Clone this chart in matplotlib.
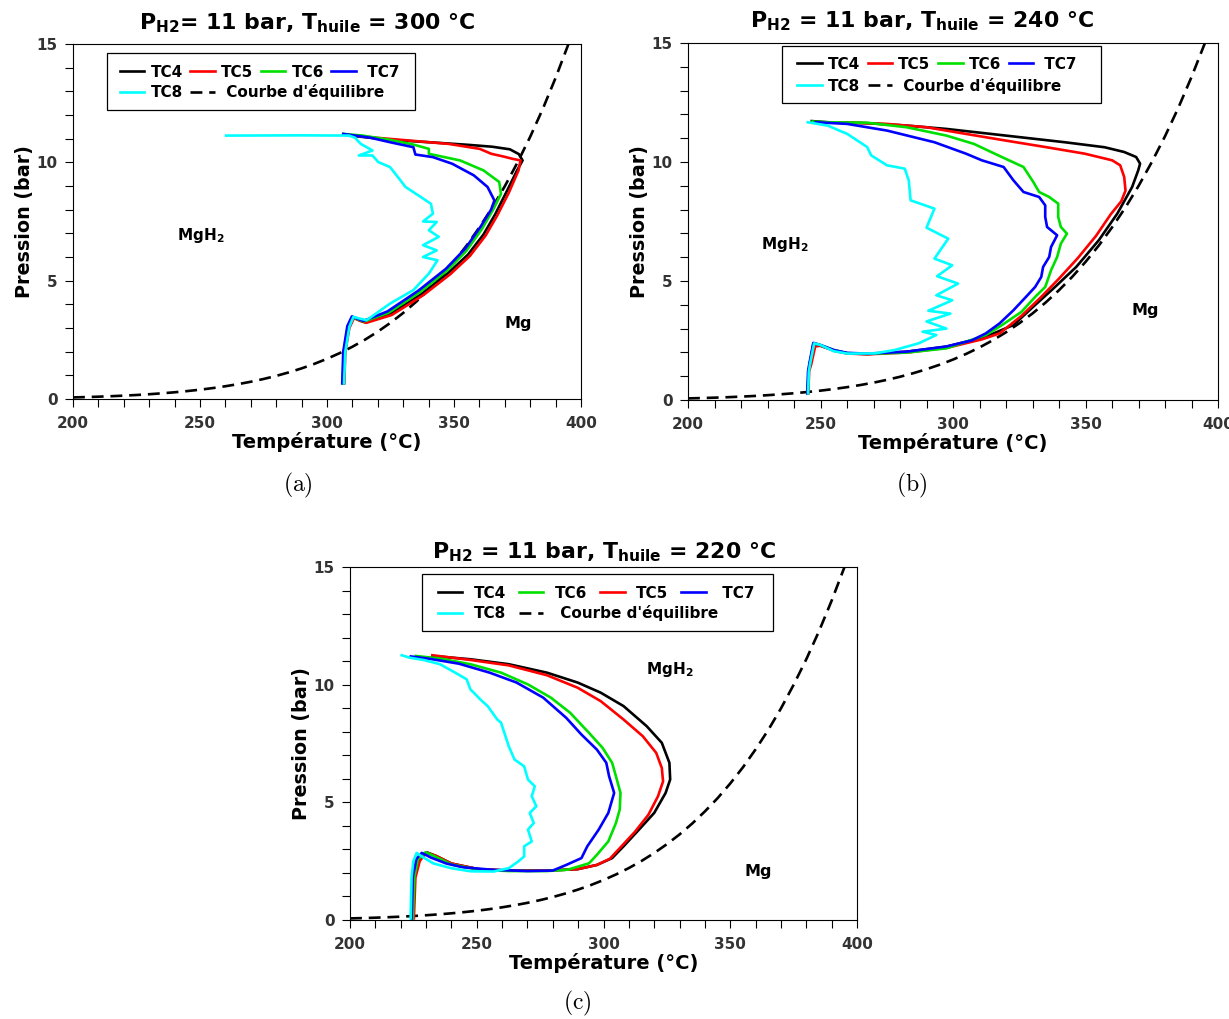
import matplotlib
matplotlib.use("Agg")
import matplotlib.pyplot as plt
from matplotlib.ticker import MultipleLocator
from matplotlib.patches import Rectangle

plt.rcParams["font.family"] = "DejaVu Sans"
plt.rcParams["font.weight"] = "bold"
plt.rcParams["axes.labelweight"] = "bold"

# courbe d'equilibre
T_eq = [200, 205, 210, 215, 220, 225, 230, 235, 240, 245, 250, 255, 260, 265,
        270, 275, 280, 285, 290, 295, 300, 305, 310, 315, 320, 325, 330, 335,
        340, 345, 350, 355, 360, 365, 370, 375, 380, 385, 390, 395, 397]
P_eq = [0.067, 0.081, 0.098, 0.118, 0.142, 0.169, 0.202, 0.240, 0.284, 0.335,
        0.393, 0.461, 0.539, 0.628, 0.729, 0.845, 0.976, 1.126, 1.294, 1.484,
        1.699, 1.939, 2.208, 2.509, 2.846, 3.222, 3.636, 4.100, 4.614, 5.176,
        5.801, 6.488, 7.250, 8.077, 8.990, 9.994, 11.08, 12.27, 13.57, 14.98, 15.6]

# (a) T huile = 300 C
T_a_TC4 = [306.6, 307.0, 308.6, 310.4, 312.7, 315.0, 324.8, 337.0, 347.8, 355.5, 361.6, 366.2,
           370.8, 374.7, 377.0, 375.5, 372.0, 365.0, 355.5, 340.1, 324.8, 312.5, 306.4]
P_a_TC4 = [0.66, 2.0, 3.05, 3.45, 3.33, 3.24, 3.58, 4.42, 5.33, 6.10, 6.95, 7.80,
           8.78, 9.63, 10.08, 10.35, 10.55, 10.66, 10.74, 10.85, 10.95, 11.09, 11.18]
T_a_TC5 = [306.8, 307.2, 308.8, 310.6, 313.0, 315.5, 325.5, 337.8, 348.5, 356.3, 362.4, 367.0,
           371.6, 375.4, 376.2, 373.0, 369.3, 364.7, 360.1, 347.8, 332.5, 317.1, 306.4]
P_a_TC5 = [0.66, 2.0, 3.0, 3.42, 3.3, 3.22, 3.55, 4.38, 5.27, 6.05, 6.90, 7.75,
           8.72, 9.66, 10.08, 10.15, 10.25, 10.36, 10.57, 10.78, 10.92, 11.06, 11.18]
T_a_TC6 = [306.2, 306.6, 308.2, 310.0, 312.4, 314.6, 324.2, 336.4, 347.2, 354.8, 360.8, 365.4,
           368.5, 367.8, 361.6, 352.4, 343.2, 340.1, 340.1, 334.0, 324.8, 314.0, 306.4]
P_a_TC6 = [0.66, 2.0, 3.05, 3.47, 3.35, 3.28, 3.64, 4.50, 5.42, 6.25, 7.15, 8.00,
           8.67, 9.17, 9.66, 10.08, 10.29, 10.36, 10.57, 10.75, 10.95, 11.13, 11.20]
T_a_TC7 = [306.0, 306.4, 308.0, 309.8, 312.2, 314.4, 323.8, 336.0, 346.8, 354.4, 360.4, 364.6,
           365.9, 363.2, 357.8, 349.3, 341.7, 334.8, 334.0, 324.8, 317.1, 311.0, 306.4]
P_a_TC7 = [0.66, 2.0, 3.08, 3.49, 3.38, 3.30, 3.70, 4.58, 5.50, 6.35, 7.27, 8.0,
           8.39, 8.96, 9.45, 9.94, 10.22, 10.33, 10.64, 10.85, 11.04, 11.13, 11.20]
T_a_TC8 = [306.7, 307.2, 308.8, 310.4, 312.8, 315.6, 324.8, 334.0, 340.1, 343.5, 337.8, 343.2,
           337.8, 344.0, 340.1, 343.2, 337.8, 341.7, 340.9, 337.0, 330.9, 327.9, 324.8, 320.2,
           317.9, 312.5, 317.9, 313.3, 311.0, 308.7, 290.0, 260.3]
P_a_TC8 = [0.66, 2.0, 3.05, 3.47, 3.4, 3.33, 4.03, 4.60, 5.30, 5.86, 6.0, 6.28,
           6.5, 6.85, 7.13, 7.48, 7.50, 7.83, 8.25, 8.53, 8.96, 9.38, 9.8, 10.01,
           10.29, 10.29, 10.5, 10.78, 11.04, 11.13, 11.14, 11.13]

# (b) T huile = 240 C
T_b_TC4 = [245.2, 245.5, 246.0, 247.3, 249.5, 255.0, 260.1, 267.6, 282.5, 297.5, 312.4, 322.8,
           329.5, 338.5, 346.5, 355.0, 362.0, 367.6, 369.9, 370.6, 369.1, 364.6, 357.2, 342.2,
           319.9, 297.5, 282.5, 267.6, 252.7, 246.7]
P_b_TC4 = [0.28, 1.2, 1.54, 2.35, 2.30, 2.08, 1.96, 1.93, 2.03, 2.24, 2.66, 3.15,
           3.84, 4.75, 5.59, 6.71, 7.83, 8.95, 9.65, 9.93, 10.21, 10.42, 10.62, 10.83,
           11.11, 11.39, 11.53, 11.63, 11.67, 11.72]
T_b_TC5 = [245.4, 245.7, 246.5, 248.0, 250.0, 255.5, 260.5, 268.0, 283.0, 298.0, 311.0, 317.6,
           326.0, 333.0, 340.0, 347.0, 354.0, 359.5, 363.5, 365.1, 364.6, 363.1, 360.1, 349.7,
           334.8, 319.9, 304.9, 290.0, 275.1, 260.1, 248.2]
P_b_TC5 = [0.28, 1.2, 1.5, 2.25, 2.28, 2.06, 1.95, 1.92, 2.0, 2.2, 2.55, 2.80,
           3.55, 4.30, 5.10, 5.95, 6.90, 7.80, 8.35, 8.80, 9.37, 9.86, 10.07, 10.35,
           10.63, 10.90, 11.18, 11.46, 11.60, 11.66, 11.67]
T_b_TC6 = [245.2, 245.5, 246.0, 247.5, 249.7, 255.0, 260.1, 267.6, 282.5, 297.5, 312.4, 318.5,
           325.8, 331.0, 334.8, 337.0, 339.3, 340.7, 343.0, 340.7, 339.7, 339.7, 336.3, 332.5,
           330.3, 326.6, 318.4, 307.9, 297.5, 282.5, 267.6, 252.7, 247.0]
P_b_TC6 = [0.28, 1.2, 1.54, 2.38, 2.32, 2.1, 1.97, 1.94, 1.99, 2.17, 2.73, 3.15,
           3.70, 4.33, 4.75, 5.45, 6.01, 6.57, 6.99, 7.27, 7.69, 8.25, 8.53, 8.74,
           9.16, 9.79, 10.21, 10.76, 11.11, 11.46, 11.65, 11.67, 11.70]
T_b_TC7 = [245.0, 245.3, 245.8, 247.3, 249.5, 255.0, 260.1, 267.6, 282.5, 297.5, 307.0, 312.4,
           317.6, 322.8, 328.1, 331.0, 333.3, 334.0, 336.3, 337.0, 339.3, 335.5, 334.8, 334.8,
           332.5, 326.6, 322.8, 319.1, 310.9, 304.9, 293.0, 275.1, 260.1, 248.2]
P_b_TC7 = [0.28, 1.2, 1.54, 2.40, 2.33, 2.1, 1.98, 1.95, 2.03, 2.25, 2.50, 2.80,
           3.22, 3.77, 4.40, 4.75, 5.17, 5.59, 6.01, 6.43, 6.92, 7.27, 7.69, 8.18,
           8.53, 8.74, 9.23, 9.79, 10.07, 10.35, 10.83, 11.32, 11.60, 11.67]
T_b_TC8 = [245.3, 245.6, 246.1, 247.6, 249.8, 255.0, 260.1, 270.6, 278.0, 287.0, 293.7, 288.5,
           297.5, 290.0, 299.0, 290.7, 299.7, 293.7, 301.9, 294.0, 299.7, 293.0, 298.2, 290.0,
           293.0, 284.0, 283.3, 281.8, 275.1, 269.1, 267.6, 260.1, 252.7, 245.2]
P_b_TC8 = [0.28, 1.2, 1.54, 2.38, 2.32, 2.05, 1.95, 1.96, 2.10, 2.38, 2.73, 2.87,
           3.00, 3.30, 3.63, 3.75, 4.19, 4.40, 4.89, 5.20, 5.66, 5.94, 6.78, 7.24,
           8.04, 8.39, 9.23, 9.72, 9.86, 10.28, 10.63, 11.18, 11.53, 11.67]

# (c) T huile = 220 C
T_c_TC4 = [224.6, 225.2, 227.0, 230.2, 234.0, 240.0, 250.6, 262.6, 277.7, 289.8, 297.4, 303.4,
           307.9, 314.0, 320.0, 324.5, 326.3, 326.0, 323.0, 317.0, 307.9, 298.9, 289.8, 277.7,
           262.6, 247.5, 232.5]
P_c_TC4 = [0.07, 1.85, 2.55, 2.88, 2.72, 2.40, 2.16, 2.10, 2.10, 2.16, 2.34, 2.63,
           3.13, 3.84, 4.55, 5.40, 5.97, 6.68, 7.53, 8.24, 9.09, 9.66, 10.09, 10.51,
           10.87, 11.08, 11.22]
T_c_TC5 = [225.2, 225.8, 227.5, 230.0, 234.0, 240.0, 250.6, 262.6, 277.7, 289.8, 297.4, 302.5,
           306.4, 312.5, 317.7, 321.5, 323.5, 323.0, 320.8, 315.5, 307.9, 298.9, 289.8, 277.7,
           262.6, 247.5, 232.5]
P_c_TC5 = [0.07, 1.80, 2.50, 2.87, 2.72, 2.40, 2.16, 2.10, 2.10, 2.16, 2.34, 2.60,
           3.05, 3.76, 4.47, 5.26, 5.89, 6.46, 7.10, 7.81, 8.52, 9.30, 9.87, 10.40,
           10.82, 11.05, 11.25]
T_c_TC6 = [224.8, 225.4, 226.8, 229.8, 233.5, 240.0, 250.6, 262.6, 277.7, 286.0, 294.3, 297.4,
           301.9, 304.9, 306.4, 306.7, 304.9, 303.4, 299.6, 294.3, 286.8, 279.2, 270.2, 259.6,
           247.5, 235.5, 226.0]
P_c_TC6 = [0.07, 1.85, 2.58, 2.88, 2.70, 2.36, 2.14, 2.08, 2.08, 2.14, 2.41, 2.77,
           3.34, 4.12, 4.69, 5.40, 6.11, 6.68, 7.32, 7.95, 8.81, 9.45, 10.01, 10.51,
           10.87, 11.11, 11.22]
T_c_TC7 = [224.3, 224.8, 226.2, 228.3, 232.0, 238.0, 244.5, 256.6, 270.0, 280.0, 285.3, 291.3,
           293.6, 298.1, 301.9, 304.2, 302.2, 301.1, 297.4, 291.3, 285.3, 276.2, 265.7, 255.1,
           243.0, 232.5, 224.0]
P_c_TC7 = [0.07, 1.85, 2.60, 2.85, 2.65, 2.40, 2.24, 2.13, 2.08, 2.10, 2.34, 2.63,
           3.13, 3.84, 4.55, 5.40, 6.11, 6.68, 7.24, 7.88, 8.59, 9.45, 10.09, 10.51,
           10.89, 11.08, 11.20]
T_c_TC8 = [223.9, 224.3, 225.0, 226.3, 229.0, 233.0, 240.0, 247.5, 256.6, 262.6, 266.4, 268.7,
           268.7, 271.7, 270.2, 272.5, 270.9, 273.5, 271.7, 272.9, 270.2, 268.7, 264.9, 262.6,
           259.6, 258.1, 254.3, 252.1, 247.5, 246.0, 241.5, 235.5, 229.4, 223.4, 220.4]
P_c_TC8 = [0.07, 1.85, 2.50, 2.85, 2.65, 2.40, 2.20, 2.07, 2.06, 2.20, 2.49, 2.70,
           3.13, 3.34, 3.84, 4.12, 4.55, 4.83, 5.26, 5.68, 5.97, 6.53, 6.82, 7.39,
           8.38, 8.52, 9.09, 9.30, 9.80, 10.23, 10.51, 10.87, 11.04, 11.15, 11.25]

colors = {"TC4": "black", "TC5": "#ff0000", "TC6": "#00e000", "TC7": "#0000ff", "TC8": "#00ffff"}
eq_label = "Courbe d'équilibre"


def draw(rect, curves, row1, title, tx, ty, frame, hx, rows, pads, mgh2, mg):
    ax = fig.add_axes(rect)
    ax.plot(T_eq, P_eq, color="black", lw=1.9, ls=(0, (4.5, 2.6)), zorder=2)
    lines = {}
    for name in ["TC4", "TC5", "TC6", "TC7", "TC8"]:
        T, P = curves[name]
        lines[name], = ax.plot(T, P, color=colors[name], lw=1.9, zorder=3)
    eq_handle, = ax.plot([], [], color="black", lw=1.9, ls=(0, (4.5, 2.6)))

    ax.set_xlim(200, 400)
    ax.set_ylim(0, 15)
    ax.xaxis.set_major_locator(MultipleLocator(50))
    ax.xaxis.set_minor_locator(MultipleLocator(10))
    ax.yaxis.set_major_locator(MultipleLocator(5))
    ax.yaxis.set_minor_locator(MultipleLocator(1))
    ax.tick_params(which="both", direction="out", length=6, width=0.8)
    ax.tick_params(axis="x", which="major", pad=6, labelsize=11, labelcolor="#333333")
    ax.tick_params(axis="y", which="major", pad=5, labelsize=11, labelcolor="#333333")
    for s in ax.spines.values():
        s.set_linewidth(0.8)
    ax.set_xlabel("Température (°C)", fontsize=14, labelpad=1)
    ax.set_ylabel("Pression (bar)", fontsize=13.8, labelpad=2)

    ax.text(tx, ty, title, transform=ax.transAxes, ha="center", va="center",
            fontsize=15.8, fontweight="bold", math_fontfamily="dejavusans")
    ax.text(mgh2[0], mgh2[1], r"$\mathbf{MgH_2}$", ha="center", va="center",
            fontsize=11, math_fontfamily="dejavusans")
    ax.text(mg[0], mg[1], "Mg", ha="center", va="center", fontsize=11.5, fontweight="bold")

    hpad, cspace = pads
    kw = dict(loc="center left", frameon=False, borderpad=0, borderaxespad=0,
              handlelength=1.6, handletextpad=hpad, columnspacing=cspace, fontsize=11)
    leg1 = ax.legend([lines[n] for n in row1], [n if n != "TC7" else " TC7" for n in row1],
                     ncol=4, bbox_to_anchor=(hx, rows[0]), **kw)
    ax.add_artist(leg1)
    ax.legend([lines["TC8"], eq_handle], ["TC8", " " + eq_label], ncol=2,
              bbox_to_anchor=(hx, rows[1]), **kw)
    ax.add_patch(Rectangle((frame[0], frame[1]), frame[2] - frame[0], frame[3] - frame[1],
                           transform=ax.transAxes, facecolor="white", edgecolor="black",
                           lw=0.9, zorder=4.5, clip_on=False))
    return ax


fig = plt.figure(figsize=(12.29, 10.19), dpi=100)

draw([73 / 1229, 620 / 1019, 508 / 1229, 355 / 1019],
     {"TC4": (T_a_TC4, P_a_TC4), "TC5": (T_a_TC5, P_a_TC5), "TC6": (T_a_TC6, P_a_TC6),
      "TC7": (T_a_TC7, P_a_TC7), "TC8": (T_a_TC8, P_a_TC8)},
     ["TC4", "TC5", "TC6", "TC7"],
     r"$\mathbf{P_{H2}}$= 11 bar, $\mathbf{T_{huile}}$ = 300 °C", 0.4616, 1.058,
     (0.0669, 0.814, 0.6732, 0.975), 0.0925, (0.921, 0.865), (0.4, 0.5),
     (250.3, 6.92), (375.4, 3.19))

draw([688 / 1229, 619 / 1019, 530 / 1229, 357 / 1019],
     {"TC4": (T_b_TC4, P_b_TC4), "TC5": (T_b_TC5, P_b_TC5), "TC6": (T_b_TC6, P_b_TC6),
      "TC7": (T_b_TC7, P_b_TC7), "TC8": (T_b_TC8, P_b_TC8)},
     ["TC4", "TC5", "TC6", "TC7"],
     r"$\mathbf{P_{H2}}$ = 11 bar, $\mathbf{T_{huile}}$ = 240 °C", 0.4415, 1.06,
     (0.1777, 0.831, 0.779, 0.9916), 0.206, (0.941, 0.880), (0.4, 0.5),
     (236.7, 6.53), (372.4, 3.77))

draw([350 / 1229, 99 / 1019, 507 / 1229, 353 / 1019],
     {"TC4": (T_c_TC4, P_c_TC4), "TC5": (T_c_TC5, P_c_TC5), "TC6": (T_c_TC6, P_c_TC6),
      "TC7": (T_c_TC7, P_c_TC7), "TC8": (T_c_TC8, P_c_TC8)},
     ["TC4", "TC6", "TC5", "TC7"],
     r"$\mathbf{P_{H2}}$ = 11 bar, $\mathbf{T_{huile}}$ = 220 °C", 0.5, 1.043,
     (0.142, 0.819, 0.834, 0.980), 0.173, (0.926, 0.870), (0.75, 0.85),
     (326.0, 10.65), (361.2, 2.06))

for lab, x, y in [("(a)", 298, 485), ("(b)", 912, 485), ("(c)", 577, 1003)]:
    fig.text(x / 1229, 1 - y / 1019, r"$\mathrm{" + lab + "}$", ha="center", va="center",
             fontsize=17, math_fontfamily="cm")

fig.savefig("out.png", dpi=100)
